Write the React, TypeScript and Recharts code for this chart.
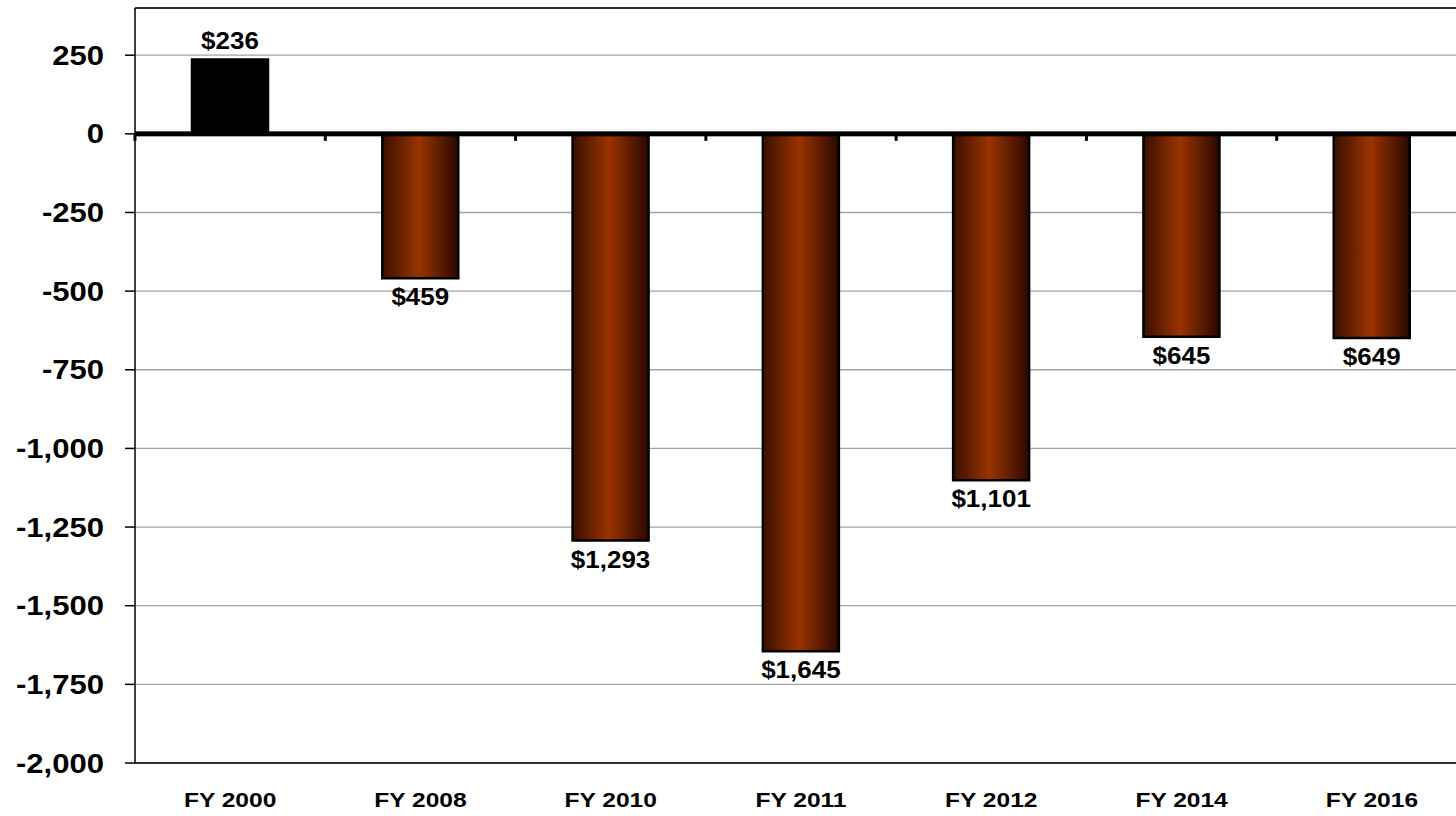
import React from 'react';
import { BarChart, Bar, XAxis, YAxis, CartesianGrid, ReferenceLine, Cell, LabelList } from 'recharts';

const categories = ['FY 2000', 'FY 2008', 'FY 2010', 'FY 2011', 'FY 2012', 'FY 2014', 'FY 2016'];
const values = [236, -459, -1293, -1645, -1101, -645, -649];
const yTicks = [-2000, -1750, -1500, -1250, -1000, -750, -500, -250, 0, 250];
const yDomain = [-2000, 400];

const data = categories.map((c, i) => ({ name: c, value: values[i] }));

const FONT = '"Liberation Sans", Arial, Helvetica, sans-serif';

const StretchText = ({ x, y, anchor, size, sx, children }: any) => (
  <text
    transform={`translate(${x},${y}) scale(${sx},1)`}
    textAnchor={anchor}
    fontSize={size}
    fontWeight="bold"
    fontFamily={FONT}
    fill="#000"
  >
    {children}
  </text>
);

const YTick = (props: any) => {
  const { x, y, payload } = props;
  return (
    <StretchText x={x} y={y + 9.5} anchor="end" size={27} sx={1.15}>
      {Number(payload.value).toLocaleString('en-US')}
    </StretchText>
  );
};

const XTick = (props: any) => {
  const { x, y, payload } = props;
  return (
    <StretchText x={x} y={y + 44} anchor="middle" size={21} sx={1.17}>
      {payload.value}
    </StretchText>
  );
};

const BarLabel = (props: any) => {
  const { x, y, width, height, value } = props;
  const top = Math.min(y, y + height);
  const bottom = Math.max(y, y + height);
  const cx = x + width / 2;
  const txt = `$${Math.abs(value).toLocaleString('en-US')}`;
  if (value >= 0) {
    return (
      <StretchText x={cx} y={top - 11} anchor="middle" size={23} sx={1.13}>
        {txt}
      </StretchText>
    );
  }
  return (
    <StretchText x={cx} y={bottom + 27} anchor="middle" size={23} sx={1.13}>
      {txt}
    </StretchText>
  );
};

const ZeroAxis = (props: any) => {
  const { x1, y1, x2 } = props;
  const n = categories.length;
  const step = (x2 - x1) / n;
  const marks = [];
  for (let i = 0; i <= n; i++) {
    const mx = x1 + i * step;
    marks.push(<rect key={i} x={mx - 1.5} y={y1} width={3} height={7} fill="#000" />);
  }
  return (
    <g>
      <rect x={x1} y={y1 - 2.5} width={x2 - x1} height={5} fill="#000" />
      {marks}
    </g>
  );
};

export default function App() {
  return (
    <div style={{ position: 'absolute', left: 0, top: 0, width: 1456, height: 816, overflow: 'hidden', background: '#fff' }}>
      <BarChart
        width={1467}
        height={816}
        data={data}
        margin={{ top: 8, right: 0, bottom: 0, left: 0 }}
        barCategoryGap={0}
      >
        <defs>
          <linearGradient id="brownGrad" x1="0" y1="0" x2="1" y2="0">
            <stop offset="0%" stopColor="#3a1000" />
            <stop offset="48%" stopColor="#9a3300" />
            <stop offset="100%" stopColor="#2a0800" />
          </linearGradient>
        </defs>
        <CartesianGrid horizontal vertical={false} stroke="#a3a3a3" strokeWidth={1.3} />
        <XAxis
          dataKey="name"
          height={53}
          axisLine={{ stroke: '#000', strokeWidth: 1.5 }}
          tickLine={false}
          tickSize={0}
          tickMargin={0}
          tick={XTick}
          interval={0}
        />
        <YAxis
          width={135}
          domain={yDomain}
          ticks={yTicks}
          interval={0}
          allowDataOverflow
          axisLine={{ stroke: '#000', strokeWidth: 1.5 }}
          tickLine={{ stroke: '#000', strokeWidth: 1.5 }}
          tickSize={10}
          tickMargin={21}
          tick={YTick}
        />
        <ReferenceLine y={400} stroke="#000" strokeWidth={1.5} />
        <Bar dataKey="value" barSize={76} stroke="#000" strokeWidth={2.5} isAnimationActive={false}>
          {data.map((d, i) => (
            <Cell key={i} fill={i === 0 ? '#000000' : 'url(#brownGrad)'} />
          ))}
          <LabelList dataKey="value" content={BarLabel} />
        </Bar>
        <ReferenceLine y={0} shape={ZeroAxis} />
      </BarChart>
    </div>
  );
}
